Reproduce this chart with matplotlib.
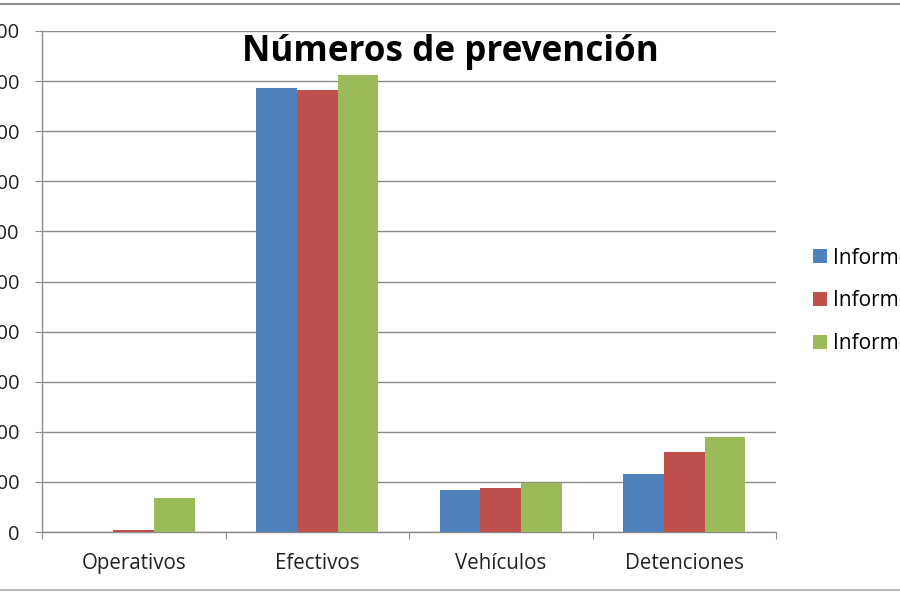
import matplotlib
matplotlib.use("Agg")
import matplotlib.pyplot as plt
from matplotlib.lines import Line2D
from matplotlib.patches import Patch
import numpy as np

categories = ["Operativos", "Efectivos", "Vehículos", "Detenciones"]
series_labels = ["Informe 2009", "Informe 2010", "Informe 2011"]
serie_1 = [0, 886, 84, 116]
serie_2 = [3, 882, 88, 160]
serie_3 = [68, 912, 98, 190]
y_ticks = list(range(0, 1001, 100))
colors = ["#4F81BD", "#C0504D", "#9BBB59"]

plt.rcParams['font.family'] = ['Open Sans', 'DejaVu Sans']

fig = plt.figure(figsize=(9, 6), dpi=100)
W, H = 900, 600
ax = fig.add_axes([42 / W, 1 - 532 / H, (776 - 42) / W, (532 - 31) / H])

x = np.arange(len(categories))
bw = 0.222
for i, (vals, c, lab) in enumerate(zip([serie_1, serie_2, serie_3], colors, series_labels)):
    ax.bar(x + (i - 1) * bw, vals, width=bw, color=c, label=lab, zorder=3)

ax.set_xlim(-0.5, len(categories) - 0.5)
ax.set_ylim(0, 1000)
ax.set_yticks(y_ticks)
ax.set_yticklabels([str(v) for v in y_ticks], fontsize=14.5, color="#222222")
ax.yaxis.grid(True, color="#8C8C8C", linewidth=1.0, zorder=0)
ax.tick_params(axis='y', length=5, color="#8C8C8C", pad=11)

ax.set_xticks(np.arange(-0.5, len(categories), 1.0))
ax.set_xticklabels([])
ax.tick_params(axis='x', which='major', length=5, color="#8C8C8C")
ax.set_xticks(x, minor=True)
ax.set_xticklabels(categories, minor=True, fontsize=14.8, color="#222222")
ax.tick_params(axis='x', which='minor', length=0, pad=15)

for s in ["top", "right"]:
    ax.spines[s].set_visible(False)
for s in ["left", "bottom"]:
    ax.spines[s].set_color("#8C8C8C")
    ax.spines[s].set_linewidth(1.0)

fig.text(450 / W, 1 - 52 / H, "Números de prevención", ha="center", va="center",
         fontsize=25.2, fontweight="bold", color="#000000")

handles = [Patch(facecolor=c, edgecolor="none") for c in colors]
fig.legend(handles, series_labels, loc="center left",
           bbox_to_anchor=(813 / W, 1 - 301 / H), frameon=False,
           fontsize=15, handlelength=0.65, handleheight=0.65, handletextpad=0.3,
           labelspacing=1.05, borderpad=0, borderaxespad=0)

fig.add_artist(Line2D([0, 1], [1 - 4 / H, 1 - 4 / H], color="#8C8C8C", linewidth=1.5,
                      transform=fig.transFigure))
fig.add_artist(Line2D([0, 1], [1 - 590 / H, 1 - 590 / H], color="#BBBBBB", linewidth=1.5,
                      transform=fig.transFigure))

fig.savefig("out.png", dpi=100)
